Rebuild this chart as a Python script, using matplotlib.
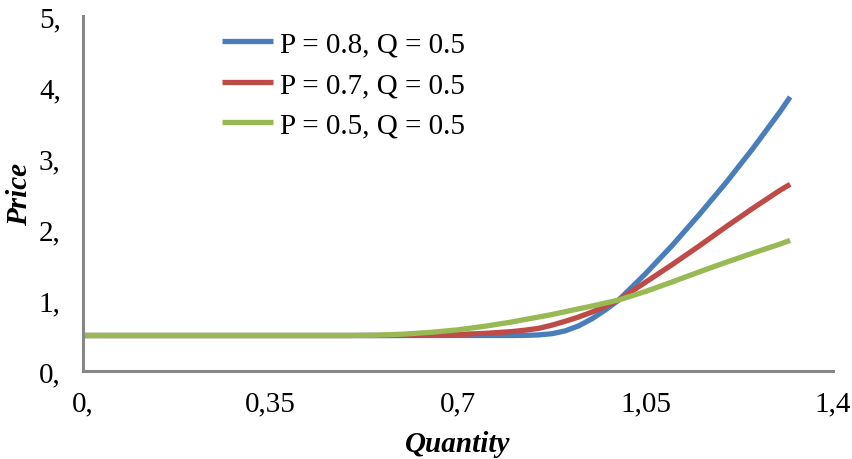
import matplotlib
matplotlib.use("Agg")
import matplotlib.pyplot as plt

plt.rcParams['font.family'] = ['Liberation Serif', 'DejaVu Serif']

# Quantity grid and price curves for three values of P (Q fixed at 0.5)
quantity = [0.0, 0.1, 0.2, 0.3, 0.4, 0.5, 0.55, 0.6, 0.65, 0.7, 0.75, 0.8,
            0.825, 0.85, 0.875, 0.9, 0.925, 0.95, 0.975, 1.0, 1.05, 1.1, 1.15,
            1.2, 1.25, 1.3, 1.32]
price_p08 = [0.5, 0.5, 0.5, 0.5, 0.5, 0.5, 0.5, 0.5, 0.5, 0.5, 0.5, 0.5,
             0.502, 0.508, 0.525, 0.565, 0.635, 0.735, 0.86, 1.0, 1.37, 1.77, 2.2,
             2.65, 3.13, 3.64, 3.86]
price_p07 = [0.5, 0.5, 0.5, 0.5, 0.5, 0.5, 0.5, 0.502, 0.507, 0.515, 0.53, 0.555,
             0.575, 0.6, 0.645, 0.7, 0.76, 0.83, 0.91, 1.0, 1.25, 1.5, 1.76,
             2.03, 2.29, 2.54, 2.63]
price_p05 = [0.5, 0.5, 0.5, 0.5, 0.5, 0.5, 0.505, 0.52, 0.545, 0.58, 0.63, 0.69,
             0.725, 0.76, 0.795, 0.835, 0.875, 0.915, 0.957, 1.0, 1.12, 1.255, 1.395,
             1.53, 1.66, 1.785, 1.84]

series_labels = ['P = 0.8, Q = 0.5', 'P = 0.7, Q = 0.5', 'P = 0.5, Q = 0.5']
series_colors = ['#4A7EBB', '#BE4B48', '#98B954']

x_ticks = [0, 0.35, 0.7, 1.05, 1.4]
x_tick_labels = ['0,', '0,35', '0,7', '1,05', '1,4']
y_ticks = [0, 1, 2, 3, 4, 5]
y_tick_labels = ['0,', '1,', '2,', '3,', '4,', '5,']

fig = plt.figure(figsize=(8.52, 4.6), dpi=100)
ax = fig.add_axes([0.0974, 0.1913, 0.8803, 0.7717])

for ys, lab, col in zip([price_p08, price_p07, price_p05], series_labels, series_colors):
    ax.plot(quantity, ys, color=col, lw=3.8, label=lab, solid_capstyle='butt')

ax.set_xlim(0, 1.4)
ax.set_ylim(0, 5)
ax.set_xticks(x_ticks)
ax.set_xticklabels(x_tick_labels)
ax.set_yticks(y_ticks)
ax.set_yticklabels(y_tick_labels)
ax.tick_params(length=0, labelsize=21)
ax.tick_params(axis='y', pad=16)
ax.tick_params(axis='x', pad=14)

for side in ['top', 'right']:
    ax.spines[side].set_visible(False)
for side in ['left', 'bottom']:
    ax.spines[side].set_color('#868686')
    ax.spines[side].set_linewidth(2.2)

ax.set_xlabel('Quantity', fontsize=21, fontweight='bold', fontstyle='italic')
ax.set_ylabel('Price', fontsize=21, fontweight='bold', fontstyle='italic')
ax.xaxis.set_label_coords(0.5, -0.165)
ax.yaxis.set_label_coords(-0.066, 0.5)

ax.legend(loc='upper left', bbox_to_anchor=(0.26, 0.93), bbox_transform=fig.transFigure,
          frameon=False, fontsize=21, handlelength=1.75, handletextpad=0.25,
          labelspacing=0.48, borderpad=0, borderaxespad=0)

fig.savefig('out.png', dpi=100)
